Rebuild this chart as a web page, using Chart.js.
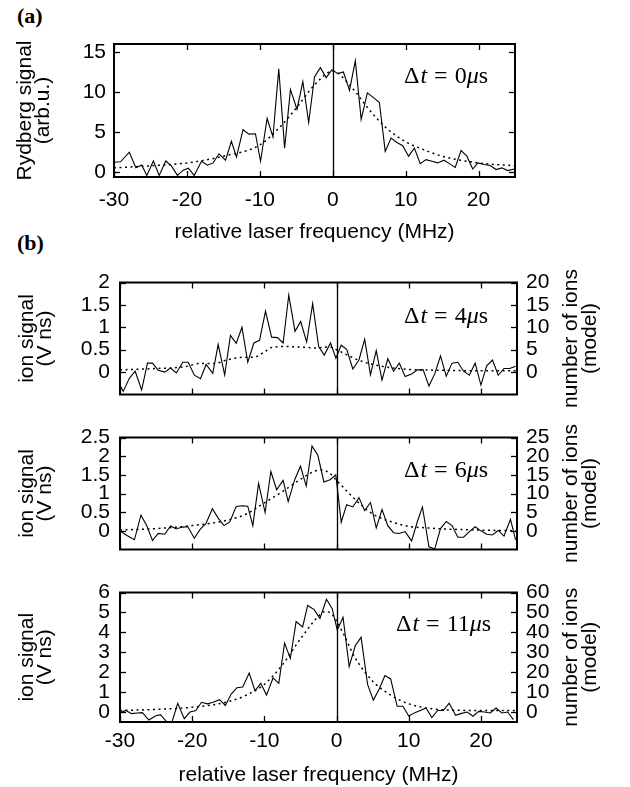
<!DOCTYPE html>
<html><head><meta charset="utf-8">
<script src="https://cdn.jsdelivr.net/npm/chart.js@4"></script>
<style>
html,body{margin:0;padding:0;background:#fff}
body{width:630px;height:787px;position:relative;overflow:hidden}
canvas{position:absolute;left:0}
.lbl{position:absolute;font:bold 22px "Liberation Serif",serif;color:#000}
</style></head><body>
<div class="lbl" style="left:17px;top:3px">(a)</div>
<div class="lbl" style="left:17px;top:230px">(b)</div>
<canvas id="ca" width="630" height="250" style="top:0px;width:630px;height:250px"></canvas>
<canvas id="cb1" width="630" height="153" style="top:262px;width:630px;height:153px"></canvas>
<canvas id="cb2" width="630" height="153" style="top:417px;width:630px;height:153px"></canvas>
<canvas id="cb3" width="630" height="215" style="top:572px;width:630px;height:215px"></canvas>
<script>
// ---------- data ----------
const xTicks = [-30, -20, -10, 0, 10, 20];
const xTitle = 'relative laser frequency (MHz)';

// (a) Rydberg signal, Δt = 0 µs
const freqA = [-30, -29.1, -27.9, -27.0, -26.2, -25.5, -24.6, -23.8, -22.9, -22.1, -21.3, -20.5, -19.8, -19.0, -18.0, -17.2, -16.4, -15.6, -14.7, -13.9, -13.2, -12.3, -11.5, -10.6, -9.9, -9.0, -8.2, -7.4, -6.6, -5.8, -4.9, -4.1, -3.3, -2.5, -1.7, -0.9, -0.1, 0.7, 1.46, 2.3, 3.1, 3.9, 4.75, 5.6, 6.4, 7.2, 8.0, 8.8, 9.6, 10.4, 11.2, 12.0, 12.8, 13.6, 14.4, 15.25, 16.0, 16.8, 17.6, 18.4, 19.2, 19.9, 20.8, 21.6, 22.4, 23.2, 24.0, 24.9];
const rydA = [1.24, 1.3, 2.5, 0.55, 0.9, -0.4, 1.4, -0.4, 1.4, 0.75, -0.4, 0.25, 0.5, -0.4, 1.36, 0.87, 1.16, 2.3, 1.5, 3.85, 1.9, 5.3, 4.75, 4.8, 1.36, 6.7, 4.4, 12.9, 3.0, 10.3, 7.85, 11.3, 6.2, 11.9, 13.05, 11.8, 12.8, 12.3, 12.5, 10.2, 13.9, 6.6, 9.9, 9.3, 8.7, 2.6, 4.25, 3.7, 3.3, 2.0, 3.0, 1.07, 1.57, 1.36, 1.16, 1.5, 1.07, 0.6, 2.7, 2.0, 0.4, 1.16, 0.95, 0.83, 0.33, 0.54, 0.2, 0.4];
const fitAx = [-30, -25, -20, -15, -10, -7.5, -5, -2.5, 0, 2.5, 5, 7.5, 10, 12.5, 15, 20, 25];
const fitAy = [0.55, 0.8, 1.15, 2.0, 3.4, 5.4, 8.0, 10.9, 12.6, 10.7, 7.8, 5.4, 3.8, 2.8, 2.0, 1.15, 0.8];
const yTicksA = [0, 5, 10, 15];

// (b) ion signal, Δt = 4 µs
const freqB1 = [-30.0, -29.56, -28.7, -27.9, -27.0, -26.2, -25.5, -24.7, -23.8, -23.0, -22.2, -21.3, -20.55, -19.7, -18.85, -18.07, -17.15, -16.4, -15.5, -14.7, -13.9, -13.1, -12.3, -11.45, -10.67, -9.84, -9.0, -8.18, -7.4, -6.62, -5.75, -4.97, -4.14, -3.31, -2.48, -1.7, -0.83, -0.09, 0.65, 1.4, 2.26, 3.1, 3.9, 4.7, 5.5, 6.3, 7.1, 7.9, 8.7, 9.5, 10.4, 11.2, 12.0, 12.8, 13.6, 14.4, 15.2, 16.0, 16.8, 17.6, 18.4, 19.2, 20.0, 20.8, 21.6, 22.4, 23.2, 24.0, 24.8];
const ionB1 = [-0.29, -0.43, -0.14, 0.02, -0.4, 0.2, 0.2, 0.04, 0.0, 0.09, -0.02, 0.22, 0.22, -0.07, -0.15, 0.17, -0.03, 0.62, -0.06, 0.82, 0.64, 1.0, 0.22, 0.65, 0.71, 1.36, 0.78, 0.77, 0.65, 1.72, 0.91, 1.13, 0.67, 1.53, 0.57, 0.38, 0.65, 0.31, 0.6, 0.51, 0.07, 0.27, 0.73, -0.06, 0.48, -0.18, 0.3, 0.02, 0.2, -0.1, -0.04, 0.05, 0.05, -0.31, -0.04, 0.36, -0.09, 0.2, 0.22, 0.02, -0.07, 0.2, -0.29, 0.14, 0.27, -0.07, 0.08, 0.08, 0.13];
const fitB1x = [-30, -25, -21, -19, -17, -15, -13, -11.5, -10, -9, -7, -5, -3, -1, 0, 1.5, 3, 5, 7.5, 10, 15, 20, 25];
const fitB1y = [0.05, 0.08, 0.12, 0.19, 0.19, 0.28, 0.33, 0.33, 0.45, 0.55, 0.57, 0.56, 0.54, 0.56, 0.5, 0.38, 0.27, 0.17, 0.1, 0.06, 0.04, 0.03, 0.03];
const yTicksB1 = [0, 0.5, 1, 1.5, 2];
const y2TicksB1 = [0, 5, 10, 15, 20];

// (b) ion signal, Δt = 6 µs
const freqB2 = [-30.0, -29.1, -28.0, -27.1, -26.3, -25.5, -24.7, -23.8, -23.0, -22.2, -21.4, -20.6, -19.7, -18.85, -18.1, -17.2, -16.4, -15.6, -14.8, -13.9, -13.1, -12.3, -11.6, -10.8, -9.9, -9.1, -8.3, -7.4, -6.7, -5.8, -5.0, -4.2, -3.4, -2.6, -1.75, -0.9, -0.1, 0.65, 1.4, 2.26, 3.1, 3.9, 4.7, 5.5, 6.3, 7.1, 7.9, 8.7, 9.5, 10.4, 11.2, 11.9, 12.8, 13.6, 14.4, 15.2, 16.0, 16.8, 17.6, 18.4, 19.2, 20.0, 20.8, 21.6, 22.4, 23.2, 24.1, 24.8];
const ionB2 = [0.0, -0.12, -0.24, 0.42, 0.14, -0.26, -0.07, -0.09, 0.13, 0.05, 0.1, 0.11, -0.2, 0.05, 0.19, 0.59, 0.34, 0.14, 0.24, 0.65, 0.67, 0.66, 0.14, 1.27, 0.49, 1.59, 1.1, 1.35, 0.78, 1.37, 1.73, 1.2, 2.27, 2.03, 1.31, 1.37, 1.5, 0.23, 0.7, 0.64, 0.89, 0.54, 0.76, 0.08, 0.57, 0.14, -0.05, -0.07, -0.02, -0.27, 0.25, 0.64, -0.43, -0.49, 0.06, 0.25, 0.14, -0.17, -0.17, -0.02, 0.11, 0.0, -0.09, -0.11, 0.01, -0.14, 0.31, -0.24];
const fitB2x = [-30, -25, -20, -15, -12.5, -10, -7.5, -5, -3, -2, -1, 0, 1, 2, 3.5, 5, 7.5, 10, 12.5, 15, 20, 25];
const fitB2y = [0.02, 0.06, 0.14, 0.29, 0.45, 0.75, 1.05, 1.38, 1.6, 1.63, 1.55, 1.35, 1.15, 0.95, 0.68, 0.45, 0.25, 0.12, 0.08, 0.05, 0.02, 0.0];
const yTicksB2 = [0, 0.5, 1, 1.5, 2, 2.5];
const y2TicksB2 = [0, 5, 10, 15, 20, 25];

// (b) ion signal, Δt = 11 µs
const freqB3 = [-30, -29.2, -28.4, -27.6, -26.9, -26.0, -25.1, -24.4, -23.5, -22.8, -22.0, -21.1, -20.3, -19.5, -18.7, -17.9, -17.1, -16.2, -15.4, -14.6, -13.8, -13.0, -12.1, -11.3, -10.5, -9.7, -8.8, -8.0, -7.2, -6.4, -5.6, -4.7, -4.0, -3.1, -2.3, -1.4, -0.6, 0.1, 0.9, 1.75, 2.6, 3.4, 4.3, 5.1, 5.9, 6.7, 7.5, 8.4, 9.2, 10.0, 10.85, 11.6, 12.4, 13.2, 14.0, 14.8, 15.6, 16.5, 17.2, 18.1, 18.9, 19.7, 20.5, 21.3, 22.1, 22.9, 23.7, 24.5];
const ionB3 = [-0.03, 0.08, -0.08, -0.05, -0.03, -0.4, -0.2, -0.13, -0.5, -0.5, 0.44, -0.33, 0.0, 0.08, 0.49, 0.41, 0.49, 0.62, 0.33, 0.9, 1.22, 1.26, 1.96, 1.06, 1.44, 0.85, 1.71, 1.44, 3.46, 2.69, 4.54, 4.27, 5.35, 5.14, 4.7, 5.66, 5.19, 4.11, 4.76, 2.28, 3.34, 3.75, 1.39, 0.6, 1.14, 1.83, 1.66, 0.29, 0.29, -0.2, -0.03, 0.08, 0.2, -0.28, 0.08, 0.08, 0.44, -0.16, -0.08, 0.0, -0.21, 0.03, 0.0, -0.05, 0.2, -0.05, 0.0, -0.38];
const fitB3x = [-30, -25, -20, -15, -12.5, -10, -7.5, -5, -2.5, -1.5, -0.5, 0, 1, 2.5, 5, 7.5, 10, 12.5, 15, 20, 25];
const fitB3y = [0.08, 0.13, 0.24, 0.52, 0.85, 1.39, 2.37, 3.67, 4.81, 5.06, 4.85, 4.57, 3.9, 2.77, 1.55, 0.85, 0.41, 0.2, 0.11, 0.08, 0.08];
const yTicksB3 = [0, 1, 2, 3, 4, 5, 6];
const y2TicksB3 = [0, 10, 20, 30, 40, 50, 60];

// ---------- drawing ----------
const SANS = '"Liberation Sans", Arial, sans-serif';
const SERIF = '"Liberation Serif", serif';

const framePlugin = {
  id: 'frame',
  afterDraw(chart, args, o) {
    const {ctx, chartArea: a, scales} = chart;
    const xs = scales.x, ys = scales.y;
    const ln = (x1, y1, x2, y2) => { ctx.beginPath(); ctx.moveTo(x1, y1); ctx.lineTo(x2, y2); ctx.stroke(); };
    ctx.save();
    ctx.strokeStyle = '#000';
    ctx.lineWidth = 1.3;
    const x0 = Math.round(xs.getPixelForValue(0)) + 0.5;
    ln(x0, a.top, x0, a.bottom);
    xs.ticks.forEach(t => {
      const p = Math.round(xs.getPixelForValue(t.value)) + 0.5;
      ln(p, a.bottom, p, a.bottom - 6); ln(p, a.top, p, a.top + 6);
    });
    ys.ticks.forEach(t => {
      const p = Math.round(ys.getPixelForValue(t.value)) + 0.5;
      ln(a.left, p, a.left + 6, p); ln(a.right, p, a.right - 6, p);
    });
    ctx.lineWidth = 2;
    ctx.strokeRect(a.left, a.top, a.right - a.left, a.bottom - a.top);
    if (o.tag) {
      let x = a.left + o.tag.dx;
      const y = a.top + o.tag.dy;
      ctx.fillStyle = '#000';
      ctx.textBaseline = 'middle';
      ctx.textAlign = 'left';
      const segs = [['Δ', 'normal', 1], ['t', 'italic', 7], ['=', 'normal', 7], [o.tag.t, 'normal', 0], ['μ', 'italic', 0], ['s', 'normal', 0]];
      segs.forEach(([s, st, gap]) => {
        ctx.font = st + ' 24px ' + SERIF;
        ctx.fillText(s, x, y);
        x += ctx.measureText(s).width + gap;
      });
    }
    if (o.rightTitle) {
      ctx.fillStyle = '#000';
      ctx.font = '21px ' + SANS;
      ctx.textAlign = 'center';
      ctx.textBaseline = 'middle';
      const cy = (a.top + a.bottom) / 2;
      o.rightTitle.forEach((s, i) => {
        ctx.save();
        ctx.translate(a.right + o.rightDx[i], cy);
        ctx.rotate(-Math.PI / 2);
        ctx.fillText(s, 0, 0);
        ctx.restore();
      });
    }
    ctx.restore();
  }
};

function fixedTicks(list) {
  return s => { s.ticks = list.map(v => ({value: v})); };
}

function panel(id, c) {
  const pts = (xs, ys) => xs.map((v, i) => ({x: v, y: ys[i]}));
  const tickFont = {family: SANS, size: 21, lineHeight: 1};
  const scales = {
    x: {
      type: 'linear', min: -30, max: 25,
      afterBuildTicks: fixedTicks(xTicks),
      afterFit: s => { s.height = c.xH; },
      grid: {display: false, drawTicks: false}, border: {display: false},
      ticks: {display: c.xLabels, autoSkip: false, maxRotation: 0, padding: c.xPad, color: '#000', font: tickFont, callback: v => String(v)},
      title: {display: c.xLabels, text: xTitle, color: '#000', font: {family: SANS, size: 21, lineHeight: 1}, padding: {top: 0, bottom: c.xTitlePad}}
    },
    y: {
      type: 'linear', position: 'left', min: c.ymin, max: c.ymax,
      afterBuildTicks: fixedTicks(c.yTicks),
      afterFit: s => { s.width = c.left; },
      grid: {display: false, drawTicks: false}, border: {display: false},
      ticks: {autoSkip: false, padding: c.yPad, color: '#000', font: tickFont, callback: v => String(v)},
      title: {display: true, text: c.yTitle, color: '#000', font: {family: SANS, size: 21, lineHeight: 0.82}, padding: {top: c.yTitlePad, bottom: 0}}
    }
  };
  if (c.y2Ticks) {
    scales.y2 = {
      type: 'linear', position: 'right', min: c.ymin * 10, max: c.ymax * 10,
      afterBuildTicks: fixedTicks(c.y2Ticks),
      afterFit: s => { s.width = 630 - c.right; },
      grid: {display: false, drawTicks: false}, border: {display: false},
      ticks: {autoSkip: false, padding: 9, color: '#000', font: tickFont, callback: v => String(v)}
    };
  }
  new Chart(document.getElementById(id), {
    type: 'line',
    data: {datasets: [
      {data: pts(c.x, c.y), borderColor: '#000', borderWidth: 1.1, pointRadius: 0, tension: 0, yAxisID: 'y'},
      {data: pts(c.fx, c.fy), borderColor: '#000', borderWidth: 1.5, borderDash: [2, 3.5], pointRadius: 0, cubicInterpolationMode: 'monotone', yAxisID: 'y'}
    ]},
    options: {
      responsive: false, animation: false, events: [],
      layout: {padding: {top: c.padTop, bottom: c.padBottom, left: 0, right: c.y2Ticks ? 0 : 630 - c.right}},
      plugins: {legend: {display: false}, tooltip: {enabled: false},
        frame: {tag: c.tag, rightTitle: c.y2Ticks ? ['number of ions', '(model)'] : null, rightDx: [54, 73]}},
      scales
    },
    plugins: [framePlugin]
  });
}

panel('ca', {x: freqA, y: rydA, fx: fitAx, fy: fitAy, ymin: -0.6, ymax: 16, yTicks: yTicksA,
  left: 114, right: 515, padTop: 44, padBottom: 0, xH: 73, xLabels: true, xPad: 13, xTitlePad: 7,
  yPad: 8, yTitle: ['Rydberg signal', '(arb.u.)'], yTitlePad: 17, tag: {t: '0', dx: 290, dy: 33}});

panel('cb1', {x: freqB1, y: ionB1, fx: fitB1x, fy: fitB1y, ymin: -0.5, ymax: 2, yTicks: yTicksB1, y2Ticks: y2TicksB1,
  left: 120, right: 517, padTop: 17, padBottom: 3, xH: 0, xLabels: false, xPad: 0, xTitlePad: 0,
  yPad: 10, yTitle: ['ion signal', '(V ns)'], yTitlePad: 19, tag: {t: '4', dx: 284, dy: 34}});

panel('cb2', {x: freqB2, y: ionB2, fx: fitB2x, fy: fitB2y, ymin: -0.5, ymax: 2.5, yTicks: yTicksB2, y2Ticks: y2TicksB2,
  left: 120, right: 517, padTop: 17, padBottom: 3, xH: 0, xLabels: false, xPad: 0, xTitlePad: 0,
  yPad: 10, yTitle: ['ion signal', '(V ns)'], yTitlePad: 19, tag: {t: '6', dx: 284, dy: 33}});

panel('cb3', {x: freqB3, y: ionB3, fx: fitB3x, fy: fitB3y, ymin: -0.5, ymax: 6, yTicks: yTicksB3, y2Ticks: y2TicksB3,
  left: 120, right: 517, padTop: 17, padBottom: 0, xH: 65, xLabels: true, xPad: 9, xTitlePad: 1,
  yPad: 10, yTitle: ['ion signal', '(V ns)'], yTitlePad: 19, tag: {t: '11', dx: 276, dy: 32}});
</script>
</body></html>
